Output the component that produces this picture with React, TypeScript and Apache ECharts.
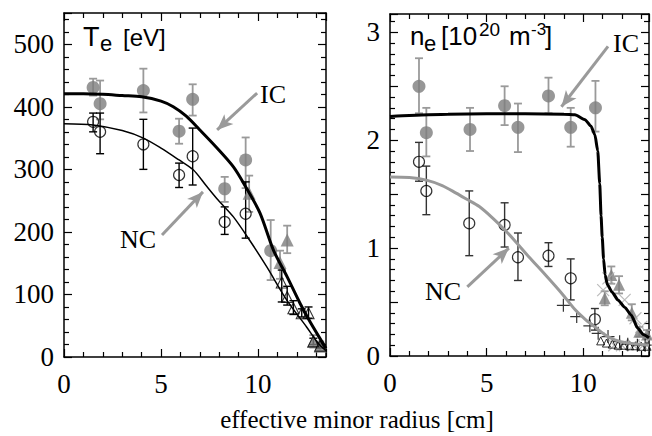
import React, { useEffect, useRef } from "react";
import * as echarts from "echarts";

// ---------- Left panel: Te [eV] ----------
// [x, y, low, high]
const teIcCircles = [
  [1.5, 431, 418, 445], [1.86, 405, 380, 442], [4.09, 426, 391, 461], [5.93, 361, 341, 381],
  [6.63, 412, 386, 436], [8.28, 269, 248, 288], [9.36, 315, 270, 351], [10.65, 170, 123, 219],
];
const teIcTriangles = [
  [9.54, 262, 232, 290], [11.13, 151, 125, 170], [11.5, 187, 166, 210], [12.85, 25, 15, 35], [13.2, 17, 10, 25],
];
const teNcCircles = [
  [1.5, 376, 360, 390], [1.86, 360, 325, 390], [4.09, 340, 300, 380], [5.93, 291, 271, 310],
  [6.63, 321, 275, 366], [8.28, 216, 196, 240], [9.36, 229, 190, 280],
];
const teNcTriangles = [
  [11.22, 119, 88, 139], [11.5, 96, 83, 113], [11.82, 78, 68, 90], [12.25, 70, 64, 77],
  [12.6, 70, 62, 80], [12.85, 25, 20, 30], [13.2, 18, 14, 22],
];
const teIcLine = [
  [0, 421], [1, 421], [2, 420], [3, 418], [4, 416], [5, 409], [5.63, 400], [6.3, 385], [7, 363],
  [7.8, 337], [8.73, 304], [9.4, 270], [10.1, 230], [10.79, 171], [11.5, 128], [12.16, 86],
  [12.7, 55], [13.28, 25], [13.5, 14],
];
const teNcLine = [
  [0, 373], [1.5, 371], [3, 362], [4.09, 350], [5, 334], [5.93, 315], [6.67, 299], [7.3, 275],
  [7.94, 251], [8.73, 224], [9.6, 185], [10.45, 144], [11.48, 91], [12.5, 48], [13.1, 22], [13.5, 10],
];
const teXTicks = [0, 5, 10];
const teYTicks = [0, 100, 200, 300, 400, 500];

// ---------- Right panel: ne [10^20 m^-3] ----------
const neIcCircles = [
  [1.5, 2.5, 2.25, 2.76], [1.88, 2.07, 1.85, 2.3], [4.14, 2.1, 1.9, 2.3], [5.93, 2.32, 2.14, 2.5],
  [6.62, 2.12, 1.89, 2.34], [8.2, 2.41, 2.25, 2.58], [9.35, 2.12, 1.94, 2.3], [10.63, 2.3, 2.08, 2.55],
];
const neNcCircles = [
  [1.5, 1.8, 1.62, 1.98], [1.88, 1.53, 1.31, 1.76], [4.1, 1.23, 0.93, 1.53], [5.93, 1.215, 1.01, 1.42],
  [6.62, 0.915, 0.7, 1.14], [8.2, 0.93, 0.83, 1.05], [9.35, 0.72, 0.52, 0.9], [10.6, 0.34, 0.24, 0.44],
];
const nePlus = [
  [8.97, 0.47], [9.66, 0.365], [10.34, 0.28], [10.77, 0.21], [11.28, 0.18], [11.88, 0.133],
  [12.3, 0.11], [12.8, 0.1], [13.2, 0.1],
];
const neNcTriangles = [
  [10.9, 0.14], [11.2, 0.12], [11.5, 0.11], [11.8, 0.1], [12.1, 0.1], [12.4, 0.095],
  [12.7, 0.095], [13.0, 0.09], [13.3, 0.09],
];
const neIcTriangles = [
  [11.11, 0.535, 0.47, 0.6], [11.45, 0.75, 0.67, 0.83], [11.85, 0.66, 0.58, 0.74],
  [12.51, 0.4, 0.33, 0.48], [12.9, 0.225, 0.18, 0.27], [13.3, 0.2, 0.16, 0.24],
];
const neIcCrosses = [
  [11.03, 0.61], [11.3, 0.72], [12.14, 0.52], [12.7, 0.35], [13.0, 0.27],
  [11.6, 0.1], [12.0, 0.1], [12.6, 0.1], [13.1, 0.1],
];
const neIcLine = [
  [0, 2.22], [1, 2.23], [3, 2.24], [5, 2.245], [7, 2.245], [9, 2.24], [9.57, 2.235], [10.09, 2.19],
  [10.4, 2.13], [10.6, 2.05], [10.75, 1.9], [10.85, 1.6], [10.92, 1.3], [10.98, 1.1], [11.05, 0.9],
  [11.13, 0.75], [11.25, 0.66], [11.5, 0.59], [11.79, 0.52], [12.15, 0.45], [12.48, 0.38],
  [12.82, 0.257], [13.1, 0.2], [13.4, 0.17],
];
const neNcLine = [
  [0, 1.66], [1, 1.655], [1.88, 1.63], [2.7, 1.58], [3.42, 1.51], [4.0, 1.45], [4.62, 1.385],
  [5.3, 1.28], [5.93, 1.17], [6.5, 1.06], [7.18, 0.92], [8.0, 0.76], [8.89, 0.58], [9.57, 0.43],
  [10.1, 0.34], [10.6, 0.27], [11.1, 0.2], [11.63, 0.15], [12.3, 0.12], [13.4, 0.1],
];
const neXTicks = [0, 5, 10];
const neYTicks = [0, 1, 2, 3];

// annotation arrows [from, to] in data coordinates
const teIcArrow = [[9.95, 422], [7.89, 363]];
const teNcArrow = [[5.05, 195], [7.16, 264]];
const neIcArrow = [[11.28, 2.87], [8.87, 2.31]];
const neNcArrow = [[4.0, 0.64], [6.15, 1.0]];

const SERIF = "Liberation Serif";
const SANS = "Liberation Sans";
const GRAY = "#7d7d7d";
const LIGHT = "#9a9a9a";

function errBars(data: number[][], xi: number, yi: number, color: string, width: number) {
  return {
    type: "custom",
    xAxisIndex: xi,
    yAxisIndex: yi,
    data,
    encode: { x: 0, y: 1 },
    z: 2,
    silent: true,
    renderItem: (params: any, api: any) => {
      const x = api.value(0);
      const p1 = api.coord([x, api.value(2)]);
      const p2 = api.coord([x, api.value(3)]);
      const c = 4;
      const st = { stroke: color, lineWidth: width };
      return {
        type: "group",
        children: [
          { type: "line", shape: { x1: p1[0], y1: p1[1], x2: p2[0], y2: p2[1] }, style: st },
          { type: "line", shape: { x1: p1[0] - c, y1: p1[1], x2: p1[0] + c, y2: p1[1] }, style: st },
          { type: "line", shape: { x1: p2[0] - c, y1: p2[1], x2: p2[0] + c, y2: p2[1] }, style: st },
        ],
      };
    },
  };
}

function scatter(data: number[][], xi: number, yi: number, symbol: string, size: number, item: any, z = 3) {
  return {
    type: "scatter",
    xAxisIndex: xi,
    yAxisIndex: yi,
    data: data.map((d) => [d[0], d[1]]),
    symbol,
    symbolSize: size,
    itemStyle: item,
    z,
    silent: true,
  };
}

function arrowLine(arrow: number[][], xi: number, yi: number) {
  return {
    type: "line",
    xAxisIndex: xi,
    yAxisIndex: yi,
    data: [],
    silent: true,
    markLine: {
      silent: true,
      animation: false,
      symbol: ["none", "arrow"],
      symbolSize: [10, 16],
      label: { show: false },
      lineStyle: { color: LIGHT, width: 3, type: "solid" },
      data: [[{ coord: arrow[0] }, { coord: arrow[1] }]],
    },
  };
}

const labelStyle = {
  show: true,
  fontFamily: SERIF,
  fontSize: 27,
  color: "#000",
  rich: { s: { fontFamily: SERIF, fontSize: 27, color: "#000" } },
};

function xAxes(gridIndex: number, max: number, ticks: number[]) {
  const common = {
    gridIndex,
    type: "value",
    min: 0,
    max,
    interval: 5,
    axisLine: { show: true, onZero: false, lineStyle: { color: "#000", width: 1.5 } },
    axisTick: { show: true, inside: true, length: 8, lineStyle: { color: "#000", width: 1.2 } },
    minorTick: { show: true, splitNumber: 5, length: 5, lineStyle: { color: "#000", width: 1.2 } },
    splitLine: { show: false },
    minorSplitLine: { show: false },
  };
  return [
    {
      ...common,
      position: "bottom",
      axisLabel: {
        ...labelStyle,
        margin: 13,
        formatter: (v: number) => (ticks.includes(v) ? "{s|" + v + "}" : ""),
      },
    },
    { ...common, position: "top", axisLabel: { show: false } },
  ];
}

function yAxes(gridIndex: number, max: number, interval: number, ticks: number[]) {
  const common = {
    gridIndex,
    type: "value",
    min: 0,
    max,
    interval,
    axisLine: { show: true, onZero: false, lineStyle: { color: "#000", width: 1.5 } },
    axisTick: { show: true, inside: true, length: 8, lineStyle: { color: "#000", width: 1.2 } },
    minorTick: { show: true, splitNumber: 5, length: 5, lineStyle: { color: "#000", width: 1.2 } },
    splitLine: { show: false },
    minorSplitLine: { show: false },
  };
  return [
    {
      ...common,
      position: "left",
      axisLabel: {
        ...labelStyle,
        margin: 10,
        formatter: (v: number) => (ticks.some((t) => Math.abs(t - v) < 1e-9) ? "{s|" + v + "}" : ""),
      },
    },
    { ...common, position: "right", axisLabel: { show: false } },
  ];
}

function txt(text: string, x: number, y: number, size: number, family: string, color = "#000", align = "left") {
  return {
    type: "text",
    x,
    y,
    silent: true,
    style: { text, fontSize: size, fontFamily: family, fill: color, align, verticalAlign: "middle" },
  };
}

export default function App() {
  const ref = useRef<HTMLDivElement>(null);
  useEffect(() => {
    if (!ref.current) return;
    const chart = echarts.init(ref.current, undefined, { renderer: "svg" });
    const option: any = {
      animation: false,
      backgroundColor: "#fff",
      textStyle: { fontFamily: SERIF },
      grid: [
        { left: 64, top: 13, width: 262, height: 344 },
        { left: 390, top: 14, width: 261, height: 342 },
      ],
      xAxis: [...xAxes(0, 13.5, teXTicks), ...xAxes(1, 13.4, neXTicks)],
      yAxis: [...yAxes(0, 550, 100, teYTicks), ...yAxes(1, 3.17, 0.5, neYTicks)],
      series: [
        // left panel
        errBars(teIcCircles, 0, 0, LIGHT, 1.8),
        errBars(teIcTriangles, 0, 0, LIGHT, 1.8),
        errBars(teNcCircles, 0, 0, "#000", 1.4),
        errBars(teNcTriangles, 0, 0, "#000", 1.4),
        scatter(teIcCircles, 0, 0, "circle", 13, { color: GRAY }),
        scatter(teIcTriangles, 0, 0, "triangle", 13, { color: GRAY }),
        scatter(teNcCircles, 0, 0, "circle", 11, { color: "rgba(255,255,255,0)", borderColor: "#000", borderWidth: 1.2 }),
        scatter(teNcTriangles, 0, 0, "triangle", 11, { color: "rgba(255,255,255,0)", borderColor: "#000", borderWidth: 1.1 }),
        {
          type: "line", xAxisIndex: 0, yAxisIndex: 0, data: teIcLine, showSymbol: false, smooth: 0.3,
          lineStyle: { color: "#000", width: 3 }, z: 4, silent: true,
        },
        {
          type: "line", xAxisIndex: 0, yAxisIndex: 0, data: teNcLine, showSymbol: false, smooth: 0.3,
          lineStyle: { color: "#000", width: 1.5 }, z: 4, silent: true,
        },
        arrowLine(teIcArrow, 0, 0),
        arrowLine(teNcArrow, 0, 0),
        // right panel
        errBars(neIcCircles, 2, 2, LIGHT, 1.8),
        errBars(neIcTriangles, 2, 2, LIGHT, 1.8),
        errBars(neNcCircles, 2, 2, "#333", 1.4),
        scatter(neIcCircles, 2, 2, "circle", 13, { color: GRAY }),
        scatter(neIcTriangles, 2, 2, "triangle", 12, { color: GRAY }),
        scatter(neIcCrosses, 2, 2, "path://M0,0L10,10M10,0L0,10", 12, { color: "none", borderColor: "#aaa", borderWidth: 1.2 }),
        scatter(neNcCircles, 2, 2, "circle", 11, { color: "rgba(255,255,255,0)", borderColor: "#000", borderWidth: 1.2 }),
        scatter(nePlus, 2, 2, "path://M0,5L10,5M5,0L5,10", 13, { color: "none", borderColor: "#000", borderWidth: 1.2 }),
        scatter(neNcTriangles, 2, 2, "triangle", 8, { color: "rgba(255,255,255,0)", borderColor: "#000", borderWidth: 1 }),
        {
          type: "line", xAxisIndex: 2, yAxisIndex: 2, data: neIcLine, showSymbol: false, smooth: 0.2,
          smoothMonotone: "x", lineStyle: { color: "#000", width: 3 }, z: 4, silent: true,
        },
        {
          type: "line", xAxisIndex: 2, yAxisIndex: 2, data: neNcLine, showSymbol: false, smooth: 0.3,
          lineStyle: { color: "#999", width: 3 }, z: 4, silent: true,
        },
        arrowLine(neIcArrow, 2, 2),
        arrowLine(neNcArrow, 2, 2),
      ],
      graphic: [
        // panel labels
        txt("T", 83, 37, 27, SANS),
        txt("e", 100, 43, 22, SANS),
        txt("[eV]", 123, 37, 24, SANS),
        txt("n", 410, 36, 26, SANS),
        txt("e", 424, 43, 22, SANS),
        txt("[10", 441, 36, 26, SANS),
        txt("20", 479, 29, 19, SANS),
        txt("m", 509, 36, 26, SANS),
        txt("-3", 531, 29, 17, SANS),
        txt("]", 545, 36, 26, SANS),
        // annotations
        txt("IC", 260, 94, 26, SERIF),
        txt("NC", 120, 239, 26, SERIF),
        txt("IC", 613, 43, 26, SERIF),
        txt("NC", 425, 291, 26, SERIF),
        // axis title
        txt("effective minor radius [cm]", 357, 419, 25, SERIF, "#000", "center"),
      ],
    };
    chart.setOption(option);
    return () => chart.dispose();
  }, []);
  return <div ref={ref} style={{ position: "fixed", left: 0, top: 0, width: 652, height: 436 }} />;
}
